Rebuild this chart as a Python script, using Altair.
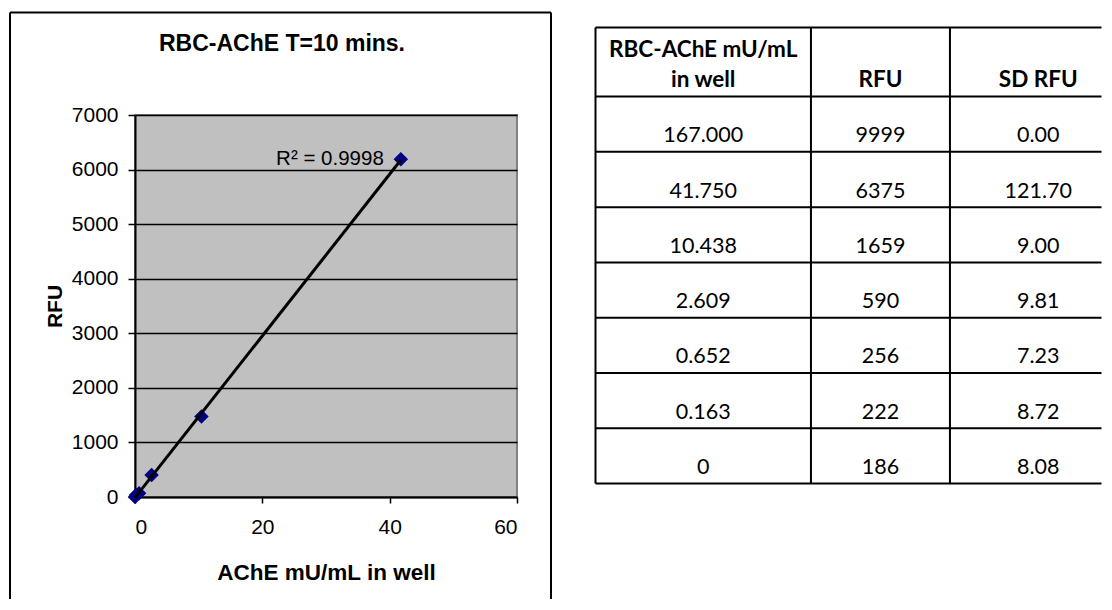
import altair as alt
import pandas as pd

# ---- data ----
conc = [167.000, 41.750, 10.438, 2.609, 0.652, 0.163, 0.0]      # RBC-AChE mU/mL in well
rfu = [9999, 6375, 1659, 590, 256, 222, 186]                     # RFU
sd_rfu = [0.00, 121.70, 9.00, 9.81, 7.23, 8.72, 8.08]            # SD RFU

# points drawn in the chart (blank-subtracted RFU)
plot_conc = [41.750, 10.438, 2.609, 0.652, 0.163, 0.0]
plot_rfu = [6189, 1473, 404, 70, 36, 0]

x_ticks = [0, 20, 40, 60]
y_ticks = [0, 1000, 2000, 3000, 4000, 5000, 6000, 7000]
r2_label = "R\u00b2 = 0.9998"
chart_title = "RBC-AChE T=10 mins."
x_title = "AChE mU/mL in well"
y_title = "RFU"
header_line1 = ["RBC-AChE mU/mL", "", ""]
header_line2 = ["in well", "RFU", "SD RFU"]

CHART_FONT = "Liberation Sans"
TABLE_FONT = "Lato"

PW, PH = 382, 382

# ---- left: scatter chart ----
pts = pd.DataFrame({"x": plot_conc, "y": plot_rfu})
xs = alt.Scale(domain=[0, 60], nice=False, zero=True)
ys = alt.Scale(domain=[0, 7000], nice=False)

x_axis = alt.Axis(values=x_ticks, grid=False, domainColor="black", domainWidth=2,
                  tickColor="black", tickSize=6, tickWidth=1.5,
                  labelFont=CHART_FONT, labelFontSize=21, labelColor="black", labelPadding=13,
                  title=x_title, titleFont=CHART_FONT, titleFontSize=22.5, titleFontWeight="bold",
                  titleColor="black", titleY=82, titleBaseline="alphabetic")
y_axis = alt.Axis(values=y_ticks, format="d", grid=True, gridColor="black", gridWidth=1.5,
                  domainColor="black", domainWidth=2,
                  tickColor="black", tickSize=7, tickWidth=1.5,
                  labelFont=CHART_FONT, labelFontSize=21, labelColor="black", labelPadding=10,
                  title=y_title, titleFont=CHART_FONT, titleFontSize=21, titleFontWeight="bold",
                  titleColor="black", titleX=-74, titleY=PH / 2, titleBaseline="alphabetic",
                  titleAlign="center")

one = pd.DataFrame({"k": [0]})
FL, FR, FT, FB = -125, 416, -102.5, 484

frame_top = alt.Chart(one).mark_rule(color="black", strokeWidth=2).encode(
    x=alt.value(FL), x2=alt.value(FR), y=alt.value(FT))
frame_left = alt.Chart(one).mark_rule(color="black", strokeWidth=2).encode(
    x=alt.value(FL), y=alt.value(FT), y2=alt.value(FB))
frame_right = alt.Chart(one).mark_rule(color="black", strokeWidth=2).encode(
    x=alt.value(FR), y=alt.value(FT), y2=alt.value(FB))

title_mark = alt.Chart(one).mark_text(text=chart_title, font=CHART_FONT, fontSize=23,
                                      fontWeight="bold", color="black", align="center",
                                      baseline="alphabetic").encode(
    x=alt.value(147), y=alt.value(-64))

points = alt.Chart(pts).mark_point(shape="diamond", filled=True, color="#000080",
                                   size=210, opacity=1).encode(
    x=alt.X("x:Q", scale=xs, axis=x_axis),
    y=alt.Y("y:Q", scale=ys, axis=y_axis))

trend = alt.Chart(pts).transform_regression("x", "y").mark_line(
    color="black", strokeWidth=3).encode(
    x=alt.X("x:Q", scale=xs), y=alt.Y("y:Q", scale=ys))

r2_df = pd.DataFrame({"x": [plot_conc[0]], "y": [plot_rfu[0]], "t": [r2_label]})
r2 = alt.Chart(r2_df).mark_text(font=CHART_FONT, fontSize=20.5, color="black", align="right",
                                baseline="alphabetic", dx=-17, dy=6).encode(
    x=alt.X("x:Q", scale=xs), y=alt.Y("y:Q", scale=ys), text="t:N")

left = alt.layer(frame_top, frame_left, frame_right, points, trend, r2, title_mark).properties(
    width=PW, height=PH,
    view=alt.ViewBackground(fill="#C0C0C0", stroke="#808080", strokeWidth=2))

# ---- right: data table ----
UNIT_X = 139.0          # px per column unit
UNIT_Y = 55.27          # px per row unit
TABLE_W = 506
col_w = [1.55, 1.0, 1.27]
header_h = 1.25
edges = [0.0]
for w in col_w:
    edges.append(edges[-1] + w)
centers = [(edges[i] + edges[i + 1]) / 2 for i in range(3)]
x_max = TABLE_W / UNIT_X
n = len(conc)
row_lines = [0.0, header_h] + [header_h + i + 1 for i in range(n)]
bottom = row_lines[-1]
y_start = 87.5 / UNIT_Y                 # table top sits above the plot origin
y_end = y_start + PH / UNIT_Y

conc_txt = [("%.3f" % c) if c != 0 else "0" for c in conc]
rfu_txt = [str(v) for v in rfu]
sd_txt = ["%.2f" % v for v in sd_rfu]

cells = []
for i in range(n):
    yb = header_h + i + 1
    for j, t in enumerate([conc_txt[i], rfu_txt[i], sd_txt[i]]):
        cells.append({"x": centers[j], "y": yb, "t": t})
cells = pd.DataFrame(cells)

head1 = pd.DataFrame([{"x": centers[j], "y": header_h, "t": header_line1[j]}
                      for j in range(3) if header_line1[j]])
head2 = pd.DataFrame([{"x": centers[j], "y": header_h, "t": header_line2[j]} for j in range(3)])

hl = pd.DataFrame({"y": row_lines, "x": [0.0] * len(row_lines), "x2": [x_max] * len(row_lines)})
vl = pd.DataFrame({"x": edges[:3], "y": [0.0] * 3, "y2": [bottom] * 3})

tx = alt.Scale(domain=[0, x_max], nice=False, zero=False)
ty = alt.Scale(domain=[y_start, y_end], nice=False, zero=False, reverse=True)

hlines = alt.Chart(hl).mark_rule(color="black", strokeWidth=2).encode(
    x=alt.X("x:Q", scale=tx, axis=None), x2="x2:Q", y=alt.Y("y:Q", scale=ty, axis=None))
vlines = alt.Chart(vl).mark_rule(color="black", strokeWidth=2).encode(
    x=alt.X("x:Q", scale=tx, axis=None), y=alt.Y("y:Q", scale=ty, axis=None), y2="y2:Q")

body = alt.Chart(cells).mark_text(font=TABLE_FONT, fontSize=21.5, color="black",
                                  align="center", baseline="alphabetic", dy=-9.5).encode(
    x=alt.X("x:Q", scale=tx, axis=None), y=alt.Y("y:Q", scale=ty, axis=None), text="t:N")
h1 = alt.Chart(head1).mark_text(font=TABLE_FONT, fontSize=22.5, fontWeight="bold", color="black",
                                align="center", baseline="alphabetic", dy=-39.5).encode(
    x=alt.X("x:Q", scale=tx, axis=None), y=alt.Y("y:Q", scale=ty, axis=None), text="t:N")
h2 = alt.Chart(head2).mark_text(font=TABLE_FONT, fontSize=22.5, fontWeight="bold", color="black",
                                align="center", baseline="alphabetic", dy=-9.5).encode(
    x=alt.X("x:Q", scale=tx, axis=None), y=alt.Y("y:Q", scale=ty, axis=None), text="t:N")

table = alt.layer(hlines, vlines, body, h1, h2).properties(
    width=TABLE_W, height=PH,
    view=alt.ViewBackground(stroke="transparent", fill="transparent"))

chart = alt.hconcat(left, table, spacing=40.5).properties(
    padding={"left": 0, "top": 2, "right": 0, "bottom": 0},
    background="white")

chart.save("out.html", embed_options={"renderer": "svg", "actions": False})
